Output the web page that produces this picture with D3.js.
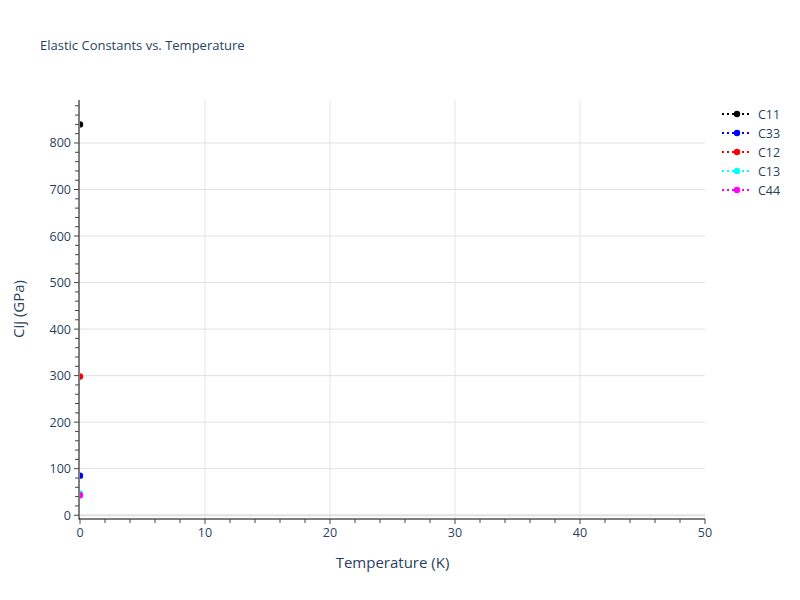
<!DOCTYPE html>
<html>
<head>
<meta charset="utf-8">
<script src="https://cdn.jsdelivr.net/npm/d3@7"></script>
<style>
  body { margin: 0; background: #fff; }
  text { font-family: "Open Sans", verdana, arial, sans-serif; }
</style>
</head>
<body>
<div id="chart"></div>
<script>
// ---------- data ----------
var seriesNames = ["C11", "C33", "C12", "C13", "C44"];
var seriesColors = ["black", "blue", "red", "cyan", "magenta"];
var temperatures = [0];
var c11 = [840];
var c33 = [85];
var c12 = [298];
var c13 = [46];
var c44 = [43];
var seriesValues = [c11, c33, c12, c13, c44];
var xTicks = [0, 10, 20, 30, 40, 50];
var yTicks = [0, 100, 200, 300, 400, 500, 600, 700, 800];

// ---------- layout ----------
var svgWidth = 800, svgHeight = 600;
var margin = { top: 100, right: 95, bottom: 82, left: 80 };
var width = svgWidth - margin.left - margin.right;
var height = svgHeight - margin.top - margin.bottom;
var textColor = "#2a3f5f";

var svg = d3.select("#chart").append("svg")
    .attr("width", svgWidth)
    .attr("height", svgHeight);

var x = d3.scaleLinear().domain([0, 50]).range([0, width]);
var y = d3.scaleLinear().domain([-6, 892.4]).range([height, 0]);

var g = svg.append("g")
    .attr("transform", "translate(" + margin.left + "," + margin.top + ")");

// grid
g.append("g").selectAll("line")
    .data(xTicks.filter(function(d) { return d > 0 && d < 50; }))
    .enter().append("line")
    .attr("x1", d => x(d)).attr("x2", d => x(d))
    .attr("y1", 0).attr("y2", height)
    .attr("stroke", "#e5e5e5").attr("stroke-width", 1);

g.append("g").selectAll("line")
    .data(yTicks.filter(function(d) { return d > 0; }))
    .enter().append("line")
    .attr("x1", 0).attr("x2", width)
    .attr("y1", d => y(d)).attr("y2", d => y(d))
    .attr("stroke", "#e0e0e0").attr("stroke-width", 1);

// zero line
g.append("line")
    .attr("x1", 0).attr("x2", width)
    .attr("y1", y(0)).attr("y2", y(0))
    .attr("stroke", "#e0e0e0").attr("stroke-width", 2);

// x axis
var xMinor = d3.range(0, 51, 2);
var xAxisG = g.append("g").attr("transform", "translate(0," + (height + 1) + ")");
xAxisG.append("line").attr("x1", -1).attr("x2", width).attr("y1", 0).attr("y2", 0)
    .attr("stroke", "black").attr("stroke-width", 1);
xAxisG.selectAll(".minor").data(xMinor).enter().append("line")
    .attr("x1", d => x(d)).attr("x2", d => x(d))
    .attr("y1", 0).attr("y2", d => d % 10 === 0 ? 5 : 4)
    .attr("stroke", "#444").attr("stroke-width", 1);
xAxisG.selectAll("text").data(xTicks).enter().append("text")
    .attr("x", d => x(d)).attr("y", 18)
    .attr("text-anchor", "middle")
    .attr("fill", textColor).style("font-size", "12.5px")
    .text(d => d);

// y axis
var yMinor = d3.range(0, 881, 20);
var yAxisG = g.append("g").attr("transform", "translate(-1,0)");
yAxisG.append("line").attr("x1", 0).attr("x2", 0).attr("y1", 0).attr("y2", height + 1.5)
    .attr("stroke", "black").attr("stroke-width", 1);
yAxisG.selectAll(".minor").data(yMinor).enter().append("line")
    .attr("x1", d => d % 100 === 0 ? -5 : -4).attr("x2", 0)
    .attr("y1", d => y(d)).attr("y2", d => y(d))
    .attr("stroke", "#444").attr("stroke-width", 1);
yAxisG.selectAll("text").data(yTicks).enter().append("text")
    .attr("x", -8).attr("y", d => y(d) + 4.5)
    .attr("text-anchor", "end")
    .attr("fill", textColor).style("font-size", "12.5px")
    .text(d => d);

// clip
svg.append("defs").append("clipPath").attr("id", "plotclip")
    .append("rect").attr("x", 0).attr("y", 0).attr("width", width).attr("height", height);

// series
var line = d3.line().x((d, i) => x(temperatures[i])).y(d => y(d));
var plot = g.append("g").attr("clip-path", "url(#plotclip)");
seriesValues.forEach(function(vals, si) {
    plot.append("path").datum(vals)
        .attr("d", line)
        .attr("fill", "none")
        .attr("stroke", seriesColors[si])
        .attr("stroke-width", 2)
        .attr("stroke-dasharray", "2,3");
    plot.selectAll(".pt" + si).data(vals).enter().append("circle")
        .attr("cx", (d, i) => x(temperatures[i]))
        .attr("cy", d => y(d))
        .attr("r", 3.2)
        .attr("fill", seriesColors[si]);
});

// legend
var legend = svg.append("g").attr("transform", "translate(722,114)");
seriesNames.forEach(function(name, i) {
    var row = legend.append("g").attr("transform", "translate(0," + (i * 19) + ")");
    row.append("line").attr("x1", 0).attr("x2", 30).attr("y1", 0).attr("y2", 0)
        .attr("stroke", seriesColors[i]).attr("stroke-width", 2)
        .attr("stroke-dasharray", "2,3");
    row.append("circle").attr("cx", 15).attr("cy", 0).attr("r", 3.2)
        .attr("fill", seriesColors[i]);
    row.append("text").attr("x", 36).attr("y", 4.5)
        .attr("fill", textColor).style("font-size", "12.5px")
        .text(name);
});

// titles
svg.append("text").attr("x", 40).attr("y", 50)
    .attr("fill", textColor).style("font-size", "13px")
    .text("Elastic Constants vs. Temperature");

svg.append("text").attr("x", margin.left + width / 2).attr("y", 568)
    .attr("text-anchor", "middle")
    .attr("fill", textColor).style("font-size", "15px")
    .text("Temperature (K)");

svg.append("text")
    .attr("transform", "translate(24," + (margin.top + height / 2) + ") rotate(-90)")
    .attr("text-anchor", "middle")
    .attr("fill", textColor).style("font-size", "15px")
    .text("Cij (GPa)");
</script>
</body>
</html>
